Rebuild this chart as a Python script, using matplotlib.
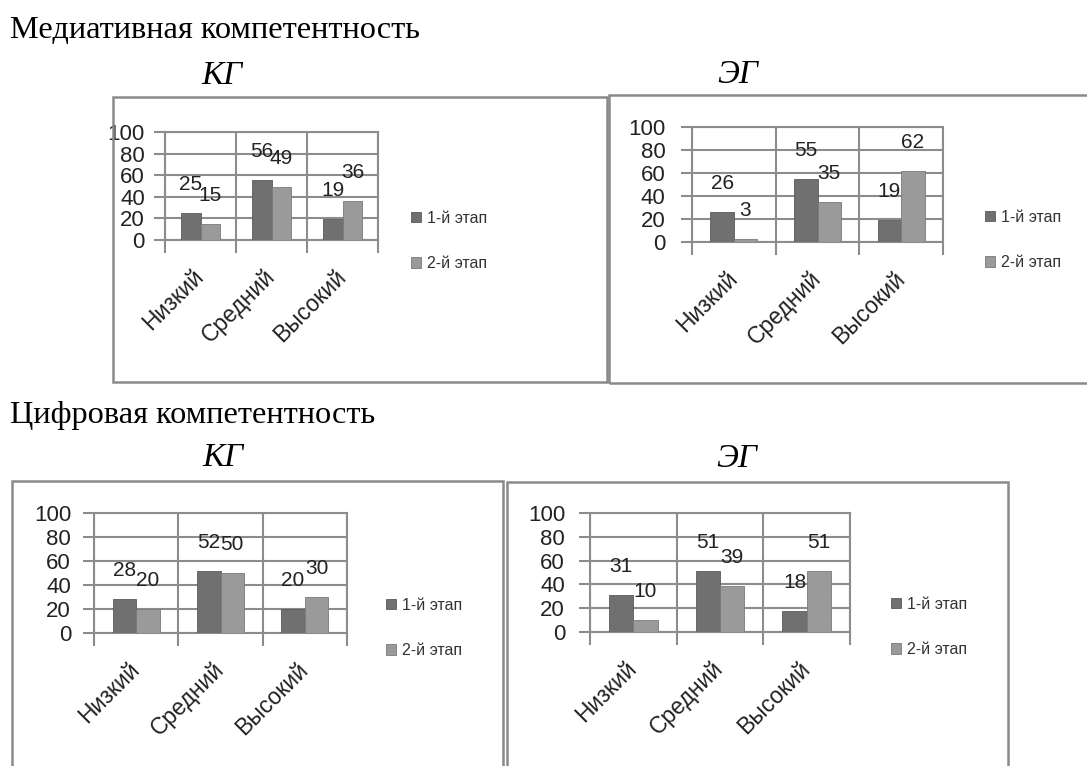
# -*- coding:utf-8 -*-
# Уровни медиативной и цифровой компетентности, КГ и ЭГ, два этапа

import matplotlib
matplotlib.use("Agg")
import matplotlib.pyplot as plt
from matplotlib.patches import Rectangle
import numpy as np

W, H = 1087, 766

levels = ["Низкий", "Средний", "Высокий"]
stages = ["1-й этап", "2-й этап"]

med_kg_1 = [25, 56, 19]
med_kg_2 = [15, 49, 36]
med_eg_1 = [26, 55, 19]
med_eg_2 = [3, 35, 62]
dig_kg_1 = [28, 52, 20]
dig_kg_2 = [20, 50, 30]
dig_eg_1 = [31, 51, 18]
dig_eg_2 = [10, 39, 51]

SANS = ["Liberation Sans", "DejaVu Sans"]
SERIF = ["Liberation Serif", "DejaVu Serif"]

C1 = "#707070"
C2 = "#9a9a9a"
GRID = "#8c8c8c"

fig = plt.figure(figsize=(W / 100, H / 100), dpi=100)
fig.patch.set_facecolor("white")


def frac(x0, y0, x1, y1):
    '''pixel box (top-left origin) -> figure fraction rect'''
    return [x0 / W, 1 - y1 / H, (x1 - x0) / W, (y1 - y0) / H]


def frame(x0, y0, x1, y1, color="#8a8a8a", lw=1.8):
    r = Rectangle((x0 / W, 1 - y1 / H), (x1 - x0) / W, (y1 - y0) / H,
                  transform=fig.transFigure, fill=False, ec=color, lw=lw)
    fig.add_artist(r)


def chart(box, s1, s2, legx, legy, tickpad):
    ax = fig.add_axes(frac(*box))
    x = np.arange(len(levels))
    w = 0.28
    b1 = ax.bar(x - w / 2, s1, w, color=C1, edgecolor="#5a5a5a", lw=0.6, label=stages[0], zorder=3)
    b2 = ax.bar(x + w / 2, s2, w, color=C2, edgecolor="#7a7a7a", lw=0.6, label=stages[1], zorder=3)
    for bars, vals in ((b1, s1), (b2, s2)):
        for r, v in zip(bars, vals):
            ax.annotate(str(v), (r.get_x() + r.get_width() / 2, v), xytext=(0, 19),
                        textcoords="offset pixels", ha="center", va="bottom",
                        fontsize=15, family=SANS, color="#222222", zorder=4)
    ax.set_xlim(-0.5, 2.5)
    ax.set_ylim(0, 100)
    ax.set_yticks(range(0, 101, 20))
    ax.set_xticks(x)
    ax.set_xticklabels(levels, rotation=45, ha="right", va="center", rotation_mode="anchor",
                       family=SANS, fontsize=16.5, color="#222222")
    ax.set_xticks([-0.5, 0.5, 1.5, 2.5], minor=True)
    ax.tick_params(axis="x", which="major", length=0, pad=24)
    ax.tick_params(axis="x", which="minor", length=9, width=1.5, color=GRID, direction="out")
    ax.tick_params(axis="y", length=8, width=1.5, color=GRID, pad=tickpad, labelsize=16,
                   labelcolor="#222222")
    for t in ax.get_yticklabels():
        t.set_family(SANS)
    ax.grid(True, axis="y", color=GRID, lw=1.5, zorder=1)
    ax.grid(True, axis="x", which="minor", color=GRID, lw=1.5, zorder=1)
    for s in ax.spines.values():
        s.set_color(GRID)
        s.set_linewidth(1.5)
    ax.set_facecolor("none")
    leg = ax.legend(loc="center left", bbox_to_anchor=(legx / W, 1 - legy / H),
                    bbox_transform=fig.transFigure, frameon=False,
                    prop={"family": SANS, "size": 11.5}, handlelength=0.6, handleheight=0.6,
                    handletextpad=0.4, labelspacing=1.9, borderpad=0, borderaxespad=0)
    for t in leg.get_texts():
        t.set_color("#333333")
    return ax


# Медиативная
fig.text(10 / W, 1 - 30 / H, "Медиативная компетентность", family=SERIF, fontsize=23.3,
         va="center", ha="left")
fig.text(222 / W, 1 - 76 / H, "КГ", family=SERIF, style="italic", fontsize=24, va="center", ha="center")
fig.text(738 / W, 1 - 75 / H, "ЭГ", family=SERIF, style="italic", fontsize=24, va="center", ha="center")
frame(113, 97, 607, 382)
frame(609, 95, 1095, 383)
chart((165, 132, 378, 240), med_kg_1, med_kg_2, 411, 241, 6.5)
chart((692, 127, 943, 242), med_eg_1, med_eg_2, 985, 240, 11)

# Цифровая
fig.text(10 / W, 1 - 415 / H, "Цифровая компетентность", family=SERIF, fontsize=23.3,
         va="center", ha="left")
fig.text(223 / W, 1 - 458 / H, "КГ", family=SERIF, style="italic", fontsize=24, va="center", ha="center")
fig.text(737 / W, 1 - 459 / H, "ЭГ", family=SERIF, style="italic", fontsize=24, va="center", ha="center")
frame(12, 481, 503, 780)
frame(507, 482, 1008, 780)
chart((94, 513, 347, 633), dig_kg_1, dig_kg_2, 386, 628, 8.5)
chart((590, 513, 850, 632), dig_eg_1, dig_eg_2, 891, 627, 10)

fig.savefig("out.png", dpi=100, facecolor="white")
